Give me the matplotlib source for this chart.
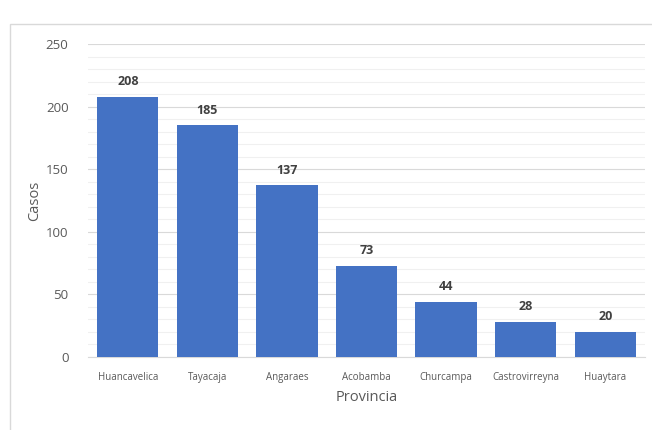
import matplotlib
matplotlib.use("Agg")
import matplotlib.pyplot as plt
from matplotlib.patches import Rectangle
from matplotlib.ticker import MultipleLocator

provincias = ["Huancavelica", "Tayacaja", "Angaraes", "Acobamba", "Churcampa", "Castrovirreyna", "Huaytara"]
casos = [208, 185, 137, 73, 44, 28, 20]

plt.rcParams['font.family'] = ['Open Sans', 'DejaVu Sans']
grey = "#595959"

fig = plt.figure(figsize=(6.52, 4.30), dpi=100)
fig.patches.append(Rectangle((10/652, -0.1), 1.0, 1 - 24/430 + 0.1, transform=fig.transFigure,
                             fill=False, edgecolor="#d9d9d9", linewidth=1))
ax = fig.add_axes([88/652, 1 - 357/430, (645-88)/652, (357-44)/430])

x = list(range(len(provincias)))
bars = ax.bar(x, casos, width=0.77, color="#4472c4", zorder=3)
for xi, v in zip(x, casos):
    ax.text(xi, v + 7, str(v), ha="center", va="bottom", fontsize=9, fontweight="bold", color="#404040")

ax.set_xlim(-0.5, len(provincias) - 0.5)
ax.set_ylim(0, 250)
ax.yaxis.set_major_locator(MultipleLocator(50))
ax.yaxis.set_minor_locator(MultipleLocator(10))
ax.grid(axis="y", which="major", color="#d9d9d9", linewidth=0.8, zorder=0)
ax.grid(axis="y", which="minor", color="#f0f0f0", linewidth=0.8, zorder=0)
for s in ["top", "right", "left"]:
    ax.spines[s].set_visible(False)
ax.spines["bottom"].set_color("#d9d9d9")
ax.set_xticks(x)
ax.set_xticklabels(provincias, fontsize=7, color=grey)
ax.tick_params(axis="x", length=0, pad=11)
ax.tick_params(axis="y", which="both", length=0, labelsize=9.5, colors=grey, pad=14)
ax.set_xlabel("Provincia", fontsize=10.5, color=grey, labelpad=5)
ax.set_ylabel("Casos", fontsize=10.5, color=grey, labelpad=3)

fig.savefig("out.png", dpi=100)
